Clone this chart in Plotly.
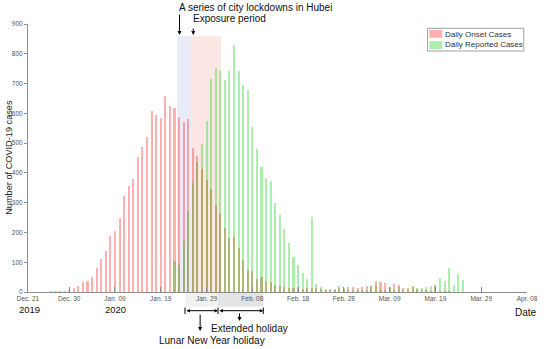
import plotly.graph_objects as go
import pandas as pd

# ---------------- data ----------------
start_date = "2019-12-21"
dates = pd.date_range(start_date, periods=96, freq="D")

onset_cases = [
    0, 0, 1, 1, 1, 2, 3, 5, 5, 11,
    13, 20, 33, 37, 50, 81, 110, 137, 188, 204,
    247, 323, 355, 378, 452, 488, 522, 608, 595, 585,
    659, 624, 618, 587, 572, 581, 485, 458, 413, 377,
    346, 293, 262, 215, 180, 184, 148, 106, 75, 69,
    44, 50, 37, 32, 23, 21, 16, 14, 12, 15,
    10, 12, 15, 12, 9, 7, 10, 11, 13, 10,
    16, 17, 13, 17, 20, 20, 38, 35, 29, 17,
    28, 24, 15, 15, 17, 10, 8, 6, 4, 19,
    4, 3, 2, 1, 1, 0,
]

reported_cases = [None] * 32 + [
    103, 92, 171, 271, 366,
    435, 498, 574, 715, 753, 741, 711, 741, 830, 742,
    694, 680, 555, 480, 419, 383, 372, 298, 260, 213,
    165, 118, 90, 65, 44, 252, 27, 16, 10, 8,
    6, 21, 12, 8, 6, 6, 8, 8, 20, 25,
    8, 8, 15, 8, 17, 8, 6, 19, 13, 13,
    16, 20, 24, 47, 38, 79, 24, 62, 41,
]

tick_dates = ["2019-12-21", "2019-12-30", "2020-01-09", "2020-01-19", "2020-01-29",
              "2020-02-08", "2020-02-18", "2020-02-28", "2020-03-09", "2020-03-19",
              "2020-03-29", "2020-04-08"]
tick_labels = ["Dec. 21", "Dec. 30", "Jan. 09", "Jan. 19", "Jan. 29", "Feb. 08",
               "Feb. 18", "Feb. 28", "Mar. 09", "Mar. 19", "Mar. 29", "Apr. 08"]
y_ticks = [0, 100, 200, 300, 400, 500, 600, 700, 800, 900]

series_names = ["Daily Onset Cases", "Daily Reported Cases"]

# ---------------- styling ----------------
FONT = "Liberation Sans, Arial, sans-serif"
W, H = 550, 349
ML, MR, MT, MB = 28, 15, 24, 57
PW, PH = W - ML - MR, H - MT - MB
PINK = "rgba(255,0,0,0.31)"
GREEN = "rgba(0,200,0,0.32)"
DAY_MS = 86400000
t0 = pd.Timestamp(start_date)


def day(d):
    return t0 + pd.Timedelta(days=d)


def px(xp):
    return (xp - ML) / PW


def py(yp):
    return (H - MB - yp) / PH


fig = go.Figure()
fig.add_trace(go.Bar(x=dates, y=onset_cases, name=series_names[0],
                     marker=dict(color=PINK, line=dict(width=0)),
                     width=0.45 * DAY_MS, showlegend=False))
fig.add_trace(go.Bar(x=dates, y=reported_cases, name=series_names[1],
                     marker=dict(color=GREEN, line=dict(width=0)),
                     width=0.45 * DAY_MS, showlegend=False))

shapes = []
# shaded periods behind bars
shapes.append(dict(type="rect", xref="x", yref="y", x0=day(32.6), x1=day(35.6), y0=0, y1=860,
                   fillcolor="#E9ECF8", line=dict(width=0), layer="below"))
shapes.append(dict(type="rect", xref="x", yref="y", x0=day(35.6), x1=day(42.2), y0=0, y1=860,
                   fillcolor="#FDE7E5", line=dict(width=0), layer="below"))
# holiday boxes under axis
shapes.append(dict(type="rect", xref="x", yref="paper", x0=day(34.3), x1=day(41.5), y0=py(306.5), y1=0,
                   fillcolor="#F1F1F1", line=dict(width=0), layer="below"))
shapes.append(dict(type="rect", xref="x", yref="paper", x0=day(41.5), x1=day(51.4), y0=py(306.5), y1=0,
                   fillcolor="#E3E3E3", line=dict(width=0), layer="below"))
# bracket end bars
for d in (34.3, 41.5, 51.4):
    shapes.append(dict(type="line", xref="x", yref="paper", x0=day(d), x1=day(d),
                       y0=py(307.5), y1=py(314), line=dict(color="black", width=1)))
# legend box and swatches
shapes.append(dict(type="rect", xref="paper", yref="paper", x0=px(434), x1=px(531.7),
                   y0=py(51), y1=py(28.3), fillcolor="white", line=dict(color="#A0A0A0", width=1)))
shapes.append(dict(type="rect", xref="paper", yref="paper", x0=px(435.7), x1=px(449),
                   y0=py(37.7), y1=py(30), fillcolor=PINK, line=dict(width=0)))
shapes.append(dict(type="rect", xref="paper", yref="paper", x0=px(435.7), x1=px(449),
                   y0=py(49), y1=py(41), fillcolor=GREEN, line=dict(width=0)))

ann = []
txt = dict(family=FONT, size=10, color="#111")
ann.append(dict(text="A series of city lockdowns in Hubei", xref="paper", yref="paper",
                x=px(179), y=py(7.5), xanchor="left", yanchor="middle", showarrow=False, font=txt))
ann.append(dict(text="Exposure period", xref="paper", yref="paper",
                x=px(193.3), y=py(19), xanchor="left", yanchor="middle", showarrow=False, font=txt))
# down arrows at top
ann.append(dict(text="", xref="x", yref="paper", x=day(33.1), y=py(35), ax=0, ay=-22,
                showarrow=True, arrowhead=2, arrowsize=0.8, arrowwidth=1, arrowcolor="black"))
ann.append(dict(text="", xref="x", yref="paper", x=day(36.1), y=py(35), ax=0, ay=-8,
                showarrow=True, arrowhead=2, arrowsize=0.8, arrowwidth=1, arrowcolor="black"))
# horizontal brackets
for a, b in ((34.3, 41.5), (41.5, 51.4)):
    ann.append(dict(text="", xref="x", yref="paper", x=day(b), y=py(310.7), axref="x", ax=day(a),
                    ayref="pixel", ay=0, showarrow=True, arrowhead=2, startarrowhead=2,
                    arrowside="end+start", arrowsize=0.7, arrowwidth=1, arrowcolor="black"))
# down arrows under brackets
ann.append(dict(text="", xref="x", yref="paper", x=day(37.6), y=py(331), ax=0, ay=-18,
                showarrow=True, arrowhead=2, arrowsize=0.8, arrowwidth=1, arrowcolor="black"))
ann.append(dict(text="", xref="x", yref="paper", x=day(46.2), y=py(321), ax=0, ay=-9,
                showarrow=True, arrowhead=2, arrowsize=0.8, arrowwidth=1, arrowcolor="black"))
ann.append(dict(text="Extended holiday", xref="paper", yref="paper", x=px(253), y=py(328),
                xanchor="center", yanchor="middle", showarrow=False, font=txt))
ann.append(dict(text="Lunar New Year holiday", xref="paper", yref="paper", x=px(215.3), y=py(340.7),
                xanchor="center", yanchor="middle", showarrow=False, font=txt))
ann.append(dict(text="Date", xref="paper", yref="paper", x=px(534.3), y=py(312.7),
                xanchor="center", yanchor="middle", showarrow=False, font=txt))
for label, xc in (("2019", 29.7), ("2020", 117)):
    ann.append(dict(text=label, xref="paper", yref="paper", x=px(xc), y=py(309.3),
                    xanchor="center", yanchor="middle", showarrow=False,
                    font=dict(family=FONT, size=9.5, color="#111")))
ann.append(dict(text="Number of COVID-19 cases", xref="paper", yref="paper", x=px(8), y=py(157.5),
                xanchor="center", yanchor="middle", textangle=-90, showarrow=False,
                font=dict(family=FONT, size=9.2, color="#222")))
# legend labels
for name, yc in ((series_names[0], 34), (series_names[1], 45)):
    ann.append(dict(text=name, xref="paper", yref="paper", x=px(450), y=py(yc),
                    xanchor="left", yanchor="middle", showarrow=False,
                    font=dict(family=FONT, size=8, color="#333")))

fig.update_layout(
    width=W, height=H, margin=dict(l=ML, r=MR, t=MT, b=MB),
    barmode="overlay", bargap=0,
    paper_bgcolor="white", plot_bgcolor="rgba(0,0,0,0)",
    shapes=shapes, annotations=ann, showlegend=False,
    font=dict(family=FONT),
    xaxis=dict(type="date", range=[t0, pd.Timestamp(tick_dates[-1])],
               tickvals=tick_dates, ticktext=tick_labels,
               showline=True, linecolor="#8C8C8C", linewidth=1,
               ticks="inside", ticklen=5, tickcolor="#8C8C8C",
               tickfont=dict(family=FONT, size=6.5, color="#555"),
               showgrid=False, zeroline=False),
    yaxis=dict(range=[0, 900], tickvals=y_ticks,
               showline=True, linecolor="#8C8C8C", linewidth=1,
               ticks="outside", ticklen=3, tickcolor="#8C8C8C",
               tickfont=dict(family=FONT, size=6.5, color="#555"),
               showgrid=False, zeroline=False),
)

fig.write_html("out.html", config={"displayModeBar": False},
               post_script="document.body.style.margin='0px';document.body.style.overflow='hidden';")
